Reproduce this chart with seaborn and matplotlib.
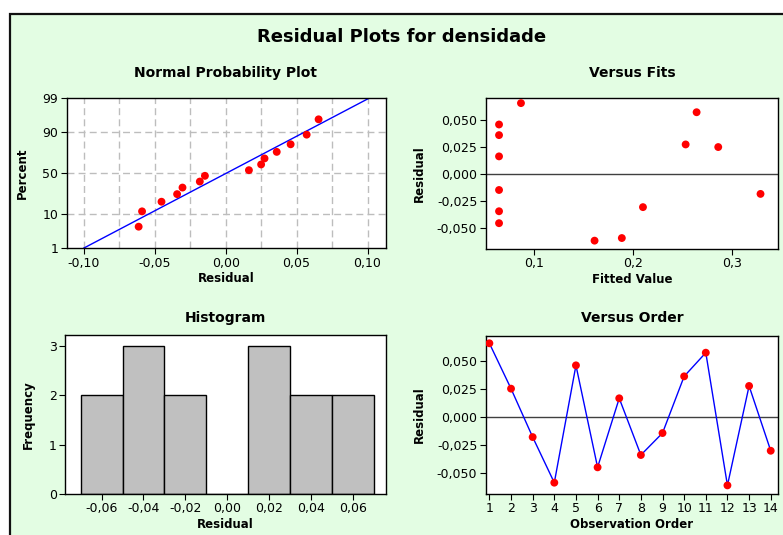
import numpy as np
import pandas as pd
import matplotlib
matplotlib.use("Agg")
import matplotlib.pyplot as plt
import matplotlib.patches as patches
from matplotlib.ticker import FuncFormatter, FixedLocator
from statistics import NormalDist
import seaborn as sns

# residuos y valores ajustados, en orden de observacion
residuos = [0.0655, 0.0250, -0.0182, -0.0589, 0.0458, -0.0452, 0.0164,
            -0.0342, -0.0146, 0.0360, 0.0571, -0.0613, 0.0274, -0.0304]
ajustados = [0.0865, 0.2862, 0.3290, 0.1886, 0.0643, 0.0643, 0.0643,
             0.0643, 0.0643, 0.0643, 0.2643, 0.1610, 0.2532, 0.2100]
orden = list(range(1, 15))

pct_ticks = [1, 10, 50, 90, 99]
hist_bins = [-0.07, -0.05, -0.03, -0.01, 0.01, 0.03, 0.05, 0.07]

sns.set_style("white")
plt.rcParams['font.family'] = ['DejaVu Sans']
plt.rcParams['axes.unicode_minus'] = False
plt.rcParams['xtick.direction'] = 'out'
plt.rcParams['ytick.direction'] = 'out'
plt.rcParams['text.color'] = 'black'
plt.rcParams['axes.labelcolor'] = 'black'
plt.rcParams['xtick.color'] = 'black'
plt.rcParams['ytick.color'] = 'black'

df = pd.DataFrame({'orden': orden, 'residuo': residuos, 'ajustado': ajustados})
n = len(df)

nd = NormalDist()
ordenados = np.sort(df['residuo'].values)
percent = [(i + 1 - 0.3) / (n + 0.4) for i in range(n)]
npp = pd.DataFrame({'x': ordenados, 'z': [nd.inv_cdf(p) for p in percent]})
media = df['residuo'].mean()
desv = df['residuo'].std()
z_lo, z_hi = nd.inv_cdf(0.01), nd.inv_cdf(0.99)
linea = pd.DataFrame({'x': [media + desv * z_lo, media + desv * z_hi], 'z': [z_lo, z_hi]})


def coma(fmt):
    return FuncFormatter(lambda v, p: (fmt % (0.0 if abs(v) < 1e-9 else v)).replace('.', ','))


W, H = 783, 535
fig = plt.figure(figsize=(7.83, 5.35), dpi=100)
fig.patch.set_facecolor('white')
fig.patches.append(patches.Rectangle((10 / W, -0.05), 1.1, 1 - 14 / H + 0.05,
                                     transform=fig.transFigure, facecolor='#E3FDE3',
                                     edgecolor='#111111', lw=1.6, zorder=-10))


def caja(l, t, r, b):
    return fig.add_axes([l / W, 1 - b / H, (r - l) / W, (b - t) / H])


ax1 = caja(66.7, 97.7, 386, 248.3)
ax2 = caja(485.7, 97.7, 778.3, 249)
ax3 = caja(65, 335, 386, 494)
ax4 = caja(485.7, 336, 778.3, 494)

tick_fs = 9
lab_fs = 8.5

for ax in [ax1, ax2, ax3, ax4]:
    ax.set_facecolor('white')
    for s in ax.spines.values():
        s.set_color('black')
        s.set_linewidth(1.0)
    ax.tick_params(length=4, width=0.8, color='black', labelcolor='black',
                   labelsize=tick_fs, pad=2, left=True, bottom=True)

# Normal Probability Plot
ax1.set_xlim(-0.112, 0.113)
ax1.set_ylim(z_lo, z_hi)
for gx in np.arange(-0.10, 0.1001, 0.025):
    ax1.axvline(gx, color='#BDBDBD', lw=1.0, ls=(0, (5, 3)), zorder=0)
for gp in [10, 50, 90]:
    ax1.axhline(nd.inv_cdf(gp / 100), color='#BDBDBD', lw=1.0, ls=(0, (5, 3)), zorder=0)
sns.lineplot(data=linea, x='x', y='z', ax=ax1, color='#0000FF', lw=1.0, zorder=2)
sns.scatterplot(data=npp, x='x', y='z', ax=ax1, color='#FF0000', s=32,
                edgecolor='none', zorder=3)
ax1.set_xticks([-0.10, -0.05, 0.0, 0.05, 0.10])
ax1.xaxis.set_major_formatter(coma('%.2f'))
ax1.yaxis.set_major_locator(FixedLocator([nd.inv_cdf(p / 100) for p in pct_ticks]))
ax1.set_yticklabels([str(p) for p in pct_ticks])
ax1.set_xlabel('Residual', fontsize=lab_fs, fontweight='bold', labelpad=2)
ax1.set_ylabel('Percent', fontsize=lab_fs, fontweight='bold', labelpad=10)

# Versus Fits
ax2.set_xlim(0.0508, 0.347)
ax2.set_ylim(-0.069, 0.0705)
ax2.axhline(0, color='#404040', lw=1.0, zorder=1)
sns.scatterplot(data=df, x='ajustado', y='residuo', ax=ax2, color='#FF0000', s=32,
                edgecolor='none', zorder=3)
ax2.set_xticks([0.1, 0.2, 0.3])
ax2.xaxis.set_major_formatter(coma('%.1f'))
ax2.set_yticks([-0.05, -0.025, 0.0, 0.025, 0.05])
ax2.yaxis.set_major_formatter(coma('%.3f'))
ax2.set_xlabel('Fitted Value', fontsize=lab_fs, fontweight='bold', labelpad=2)
ax2.set_ylabel('Residual', fontsize=lab_fs, fontweight='bold', labelpad=8)

# Histogram
sns.histplot(data=df, x='residuo', bins=hist_bins, ax=ax3, color='#C0C0C0',
             edgecolor='black', linewidth=1.0, alpha=1.0)
ax3.set_xlim(-0.0775, 0.0759)
ax3.set_ylim(0, 3.216)
ax3.set_xticks([-0.06, -0.04, -0.02, 0.0, 0.02, 0.04, 0.06])
ax3.xaxis.set_major_formatter(coma('%.2f'))
ax3.set_yticks([0, 1, 2, 3])
ax3.set_xlabel('Residual', fontsize=lab_fs, fontweight='bold', labelpad=2)
ax3.set_ylabel('Frequency', fontsize=lab_fs, fontweight='bold', labelpad=10)

# Versus Order
ax4.set_xlim(0.83, 14.35)
ax4.set_ylim(-0.069, 0.072)
ax4.axhline(0, color='#404040', lw=1.0, zorder=1)
sns.lineplot(data=df, x='orden', y='residuo', ax=ax4, color='#0000FF', lw=1.0, zorder=2)
sns.scatterplot(data=df, x='orden', y='residuo', ax=ax4, color='#FF0000', s=32,
                edgecolor='none', zorder=3)
ax4.set_xticks(orden)
ax4.set_yticks([-0.05, -0.025, 0.0, 0.025, 0.05])
ax4.yaxis.set_major_formatter(coma('%.3f'))
ax4.set_xlabel('Observation Order', fontsize=lab_fs, fontweight='bold', labelpad=2)
ax4.set_ylabel('Residual', fontsize=lab_fs, fontweight='bold', labelpad=8)

# titulos
fig.text(402 / W, 1 - 37 / H, 'Residual Plots for densidade', ha='center', va='center',
         fontsize=13, fontweight='bold')
fig.text(226 / W, 1 - 73 / H, 'Normal Probability Plot', ha='center', va='center',
         fontsize=10, fontweight='bold')
fig.text(632 / W, 1 - 73 / H, 'Versus Fits', ha='center', va='center',
         fontsize=10, fontweight='bold')
fig.text(225 / W, 1 - 318 / H, 'Histogram', ha='center', va='center',
         fontsize=10, fontweight='bold')
fig.text(632 / W, 1 - 318 / H, 'Versus Order', ha='center', va='center',
         fontsize=10, fontweight='bold')

plt.savefig('out.png', dpi=100, facecolor=fig.get_facecolor())
